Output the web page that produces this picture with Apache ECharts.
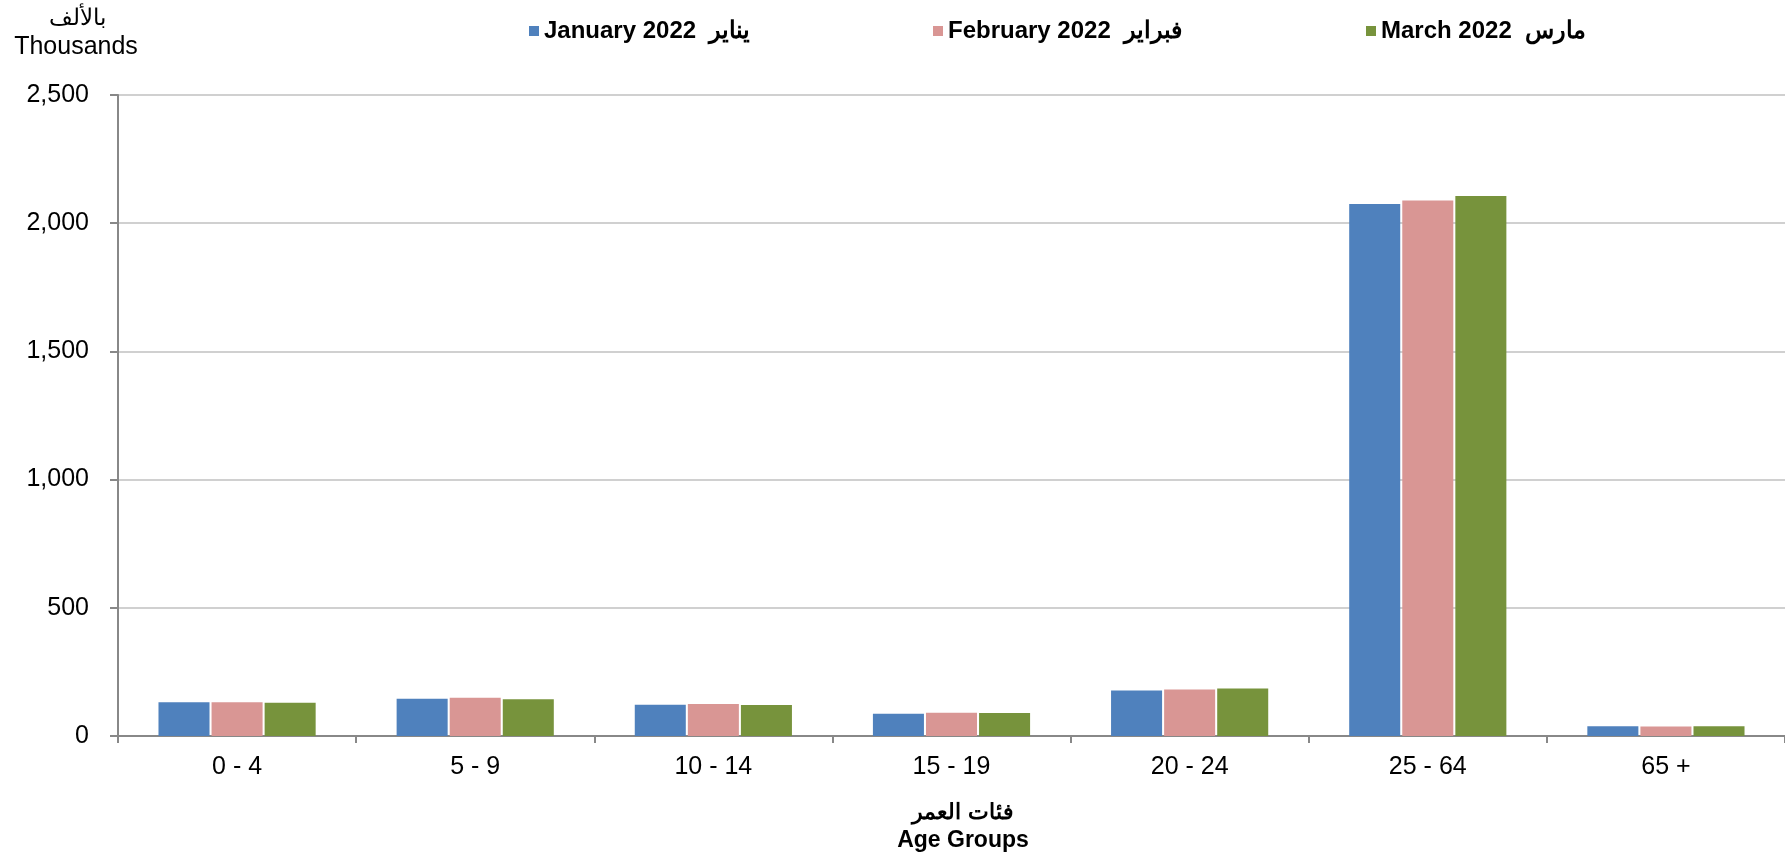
<!DOCTYPE html>
<html>
<head>
<meta charset="utf-8">
<script src="https://cdn.jsdelivr.net/npm/echarts@6/dist/echarts.min.js"></script>
<style>
html,body{margin:0;padding:0;background:#fff;}
#chart{width:1785px;height:857px;}
</style>
</head>
<body>
<div id="chart"></div>
<script>
const categories = ['0 - 4', '5 - 9', '10 - 14', '15 - 19', '20 - 24', '25 - 64', '65 +'];
const seriesNames = ['January 2022  يناير', 'February 2022  فبراير', 'March 2022  مارس'];
const january = [132, 145, 122, 87, 177, 2075, 38];
const february = [132, 149, 125, 91, 181, 2089, 37];
const march = [130, 143, 121, 90, 185, 2106, 38];
const colors = ['#4F81BD', '#D99694', '#77933C'];
const yTicks = { min: 0, max: 2500, interval: 500 };

const chart = echarts.init(document.getElementById('chart'), null, { renderer: 'canvas' });
const font = 'Liberation Sans, Arial, sans-serif';
const legendLefts = [524, 928, 1361];

const option = {
  animation: false,
  backgroundColor: '#ffffff',
  textStyle: { fontFamily: font },
  grid: { left: 118, right: 0, top: 95, bottom: 121, containLabel: false },
  legend: seriesNames.map((n, i) => ({
    data: [n],
    left: legendLefts[i],
    top: 14,
    icon: 'rect',
    itemWidth: 10,
    itemHeight: 10,
    itemGap: 6,
    textStyle: { fontFamily: font, fontSize: 24, fontWeight: 'bold', color: '#000' }
  })),
  xAxis: {
    type: 'category',
    data: categories,
    axisLine: { show: true, lineStyle: { color: '#888888', width: 2 } },
    axisTick: { show: true, length: 7, lineStyle: { color: '#888888', width: 2 } },
    axisLabel: { color: '#000', fontSize: 25, fontFamily: font, margin: 19 },
    splitLine: { show: false }
  },
  yAxis: {
    type: 'value',
    min: yTicks.min,
    max: yTicks.max,
    interval: yTicks.interval,
    axisLine: { show: true, lineStyle: { color: '#888888', width: 2 } },
    axisTick: { show: true, length: 8, lineStyle: { color: '#888888', width: 2 } },
    axisLabel: {
      color: '#000', fontSize: 25, fontFamily: font, margin: 29,
      formatter: v => v.toLocaleString('en-US')
    },
    splitLine: { show: true, lineStyle: { color: '#C0C0C0', width: 1.5 } }
  },
  graphic: [
    { type: 'text', x: 77, y: 19, style: { text: 'بالألف', fill: '#000', font: '23px ' + font, textAlign: 'center', textVerticalAlign: 'middle' } },
    { type: 'text', x: 76, y: 47, style: { text: 'Thousands', fill: '#000', font: '25px ' + font, textAlign: 'center', textVerticalAlign: 'middle' } },
    { type: 'text', x: 963, y: 813, style: { text: 'فئات العمر', fill: '#000', font: 'bold 22px ' + font, textAlign: 'center', textVerticalAlign: 'middle' } },
    { type: 'text', x: 963, y: 841, style: { text: 'Age Groups', fill: '#000', font: 'bold 23px ' + font, textAlign: 'center', textVerticalAlign: 'middle' } }
  ],
  series: [january, february, march].map((d, i) => ({
    name: seriesNames[i],
    type: 'bar',
    data: d,
    barCategoryGap: '34%',
    barGap: '4%',
    itemStyle: { color: colors[i] }
  }))
};
chart.setOption(option);
</script>
</body>
</html>
